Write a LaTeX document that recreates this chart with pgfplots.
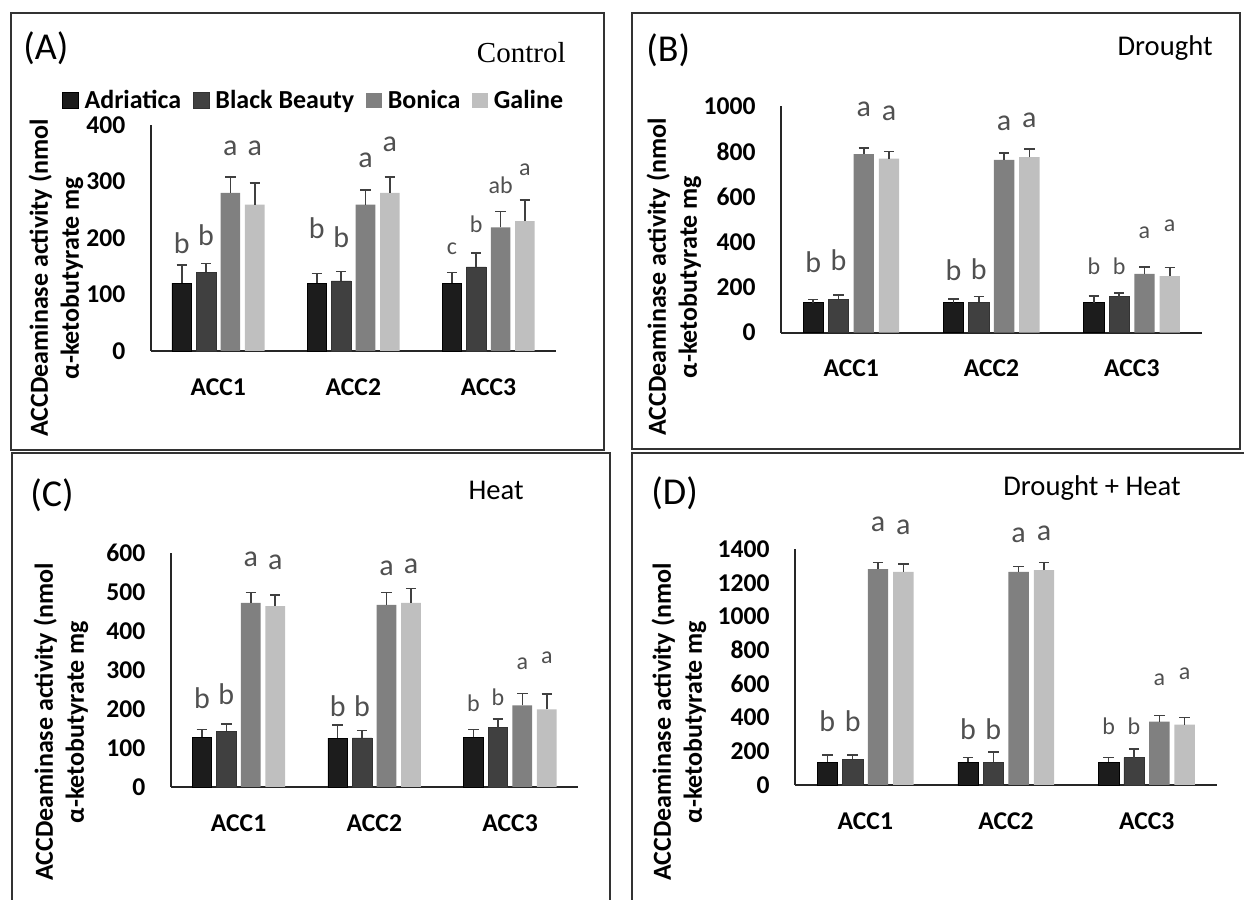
\documentclass[border=0pt]{standalone}
\usepackage{fontspec}
\setmainfont{Carlito}
\newfontfamily\seriffont{Liberation Serif}
\usepackage{pgfplots}
\pgfplotsset{compat=1.18}
\usepackage{pgfplotstable}

\definecolor{cAdr}{HTML}{1C1C1C}
\definecolor{cBB}{HTML}{404040}
\definecolor{cBon}{HTML}{808080}
\definecolor{cGal}{HTML}{BFBFBF}
\definecolor{cErr}{HTML}{404040}
\definecolor{cLet}{HTML}{505050}
\definecolor{cFrame}{HTML}{333333}

\pgfplotstableread{
x adr adrE bb bbE bon bonE gal galE
0 120 32 139 16 280 28 259 38
1 120 17 124 17 259 26 280 28
2 120 19 149 24 219 28 230 37
}\tA
\pgfplotstableread{
x adr adrE bb bbE bon bonE gal galE
0 132 15 148 18 788 27 768 31
1 132 16 134 25 762 31 774 36
2 132 30 159 17 259 31 249 38
}\tB
\pgfplotstableread{
x adr adrE bb bbE bon bonE gal galE
0 128 19 143 19 472 27 464 29
1 125 34 126 19 467 32 472 37
2 127 20 152 23 209 31 199 40
}\tC
\pgfplotstableread{
x adr adrE bb bbE bon bonE gal galE
0 135 43 152 26 1281 40 1265 46
1 135 27 135 59 1265 32 1275 46
2 135 27 162 52 376 36 358 42
}\tD

\pgfplotsset{
  panel/.style={
    scale only axis, anchor=south west,
    ybar, bar width=0.145,
    xmin=-0.5, xmax=2.5, ymin=0, enlargelimits=false,
    axis lines=left, axis line style={-, line width=0.9pt, color=black!85},
    xtick={0,1,2}, xticklabels={ACC1,ACC2,ACC3},
    major tick length=0pt,
    tick label style={font=\fontsize{12.8}{13}\selectfont\bfseries},
    /pgf/number format/assume math mode=true,
    /pgf/number format/1000 sep={},
    yticklabel style={anchor=east, inner sep=0pt, xshift=-12.5pt},
    xticklabel style={anchor=north, inner sep=0pt, yshift=-13.5pt},
    clip=false,
  },
  eb/.style={error bars/.cd, y dir=plus, y explicit,
    error bar style={line width=0.8pt, color=cErr},
    error mark options={rotate=90, mark size=2.6pt, line width=0.8pt, color=cErr}},
}
\tikzset{
  lt/.style={font=\fontsize{15}{15}\selectfont, text=cLet, inner sep=0pt},
  lts/.style={font=\fontsize{12}{12}\selectfont, text=cLet, inner sep=0pt},
  ylab/.style={rotate=90, align=center, font=\fontsize{13}{15.5}\selectfont\bfseries},
}

\newcommand\bars[1]{%
  \addplot[fill=cAdr, draw=black, line width=0.3pt, bar shift=-0.27, eb] table[x=x, y=adr, y error=adrE] {#1};
  \addplot[fill=cBB, draw=black!80, line width=0.3pt, bar shift=-0.09, eb] table[x=x, y=bb, y error=bbE] {#1};
  \addplot[fill=cBon, draw=none, bar shift=0.09, eb] table[x=x, y=bon, y error=bonE] {#1};
  \addplot[fill=cGal, draw=none, bar shift=0.27, eb] table[x=x, y=gal, y error=galE] {#1};
}

\begin{document}
\begin{tikzpicture}
\path[use as bounding box] (0,0) rectangle (622pt,450pt);

% frames
\draw[cFrame, line width=1pt] (5.5pt,225pt) rectangle (302pt,443.5pt);
\draw[cFrame, line width=1pt] (316pt,225.5pt) rectangle (620pt,443.5pt);
\draw[cFrame, line width=1pt] (6pt,-2pt) -- (6pt,223.5pt) -- (305pt,223.5pt) -- (305pt,-2pt);
\draw[cFrame, line width=1pt] (316pt,-2pt) -- (316pt,223.5pt) -- (625pt,223.5pt);

% panel titles
\node[anchor=west, inner sep=0pt, font=\fontsize{19}{19}\selectfont] at (11.5pt,426pt) {(A)};
\node[anchor=east, inner sep=0pt, font=\fontsize{14.5}{14.5}\selectfont\seriffont] at (283pt,423.5pt) {Control};
\node[anchor=west, inner sep=0pt, font=\fontsize{19}{19}\selectfont] at (323pt,425pt) {(B)};
\node[anchor=east, inner sep=0pt, font=\fontsize{14.3}{14.3}\selectfont] at (606.5pt,426pt) {Drought};
\node[anchor=west, inner sep=0pt, font=\fontsize{19}{19}\selectfont] at (15pt,202.5pt) {(C)};
\node[anchor=east, inner sep=0pt, font=\fontsize{14.3}{14.3}\selectfont] at (262pt,205pt) {Heat};
\node[anchor=west, inner sep=0pt, font=\fontsize{19}{19}\selectfont] at (325.5pt,203.5pt) {(D)};
\node[anchor=east, inner sep=0pt, font=\fontsize{14.3}{14.3}\selectfont] at (590.5pt,206pt) {Drought + Heat};

% y labels
\node[ylab] at (28pt,311pt) {ACCDeaminase activity (nmol\\α-ketobutyrate mg};
\node[ylab] at (337pt,311.5pt) {ACCDeaminase activity (nmol\\α-ketobutyrate mg};
\node[ylab] at (30.5pt,89pt) {ACCDeaminase activity (nmol\\α-ketobutyrate mg};
\node[ylab] at (339.5pt,89pt) {ACCDeaminase activity (nmol\\α-ketobutyrate mg};

% ---------------- A
\begin{axis}[panel, at={(75.35pt,274.5pt)}, width=202.65pt, height=113pt,
  ymax=400, ytick={0,100,200,300,400},
  legend columns=4,
  legend style={at={(-0.219,1.108)}, anchor=west, draw=none, fill=none,
    inner sep=0pt, font=\fontsize{13}{13}\selectfont\bfseries,
    nodes={inner sep=0pt, anchor=west},
    /tikz/every odd column/.append style={column sep=3pt},
    /tikz/every even column/.append style={column sep=6pt}},
  legend image code/.code={\fill[#1] (0pt,-3.9pt) rectangle (7.8pt,3.9pt);},
]
\bars{\tA}
\legend{Adriatica, Black Beauty, Bonica, Galine}
\node[lt] at (axis cs:-0.27,191) {b};
\node[lt] at (axis cs:-0.09,205) {b};
\node[lt] at (axis cs:0.09,359) {a};
\node[lt] at (axis cs:0.27,359) {a};
\node[lt] at (axis cs:0.73,217) {b};
\node[lt] at (axis cs:0.91,202) {b};
\node[lt] at (axis cs:1.09,338) {a};
\node[lt] at (axis cs:1.27,365) {a};
\node[lts] at (axis cs:1.73,181) {c};
\node[lts] at (axis cs:1.91,224) {b};
\node[lts] at (axis cs:2.09,294) {ab};
\node[lts] at (axis cs:2.27,320) {a};
\end{axis}

% ---------------- B
\begin{axis}[panel, at={(390.5pt,283.65pt)}, width=210.5pt, height=113.35pt,
  ymax=1000, ytick={0,200,400,600,800,1000}]
\bars{\tB}
\node[lt] at (axis cs:-0.27,313) {b};
\node[lt] at (axis cs:-0.09,321) {b};
\node[lt] at (axis cs:0.09,985) {a};
\node[lt] at (axis cs:0.27,968) {a};
\node[lt] at (axis cs:0.73,276) {b};
\node[lt] at (axis cs:0.91,279) {b};
\node[lt] at (axis cs:1.09,924) {a};
\node[lt] at (axis cs:1.27,935) {a};
\node[lts] at (axis cs:1.73,291) {b};
\node[lts] at (axis cs:1.91,294) {b};
\node[lts] at (axis cs:2.09,443) {a};
\node[lts] at (axis cs:2.27,472) {a};
\end{axis}

% ---------------- C
\begin{axis}[panel, at={(85.35pt,56.5pt)}, width=203.65pt, height=117pt,
  ymax=600, ytick={0,100,200,300,400,500,600}]
\bars{\tC}
\node[lt] at (axis cs:-0.27,228) {b};
\node[lt] at (axis cs:-0.09,239) {b};
\node[lt] at (axis cs:0.09,585) {a};
\node[lt] at (axis cs:0.27,577) {a};
\node[lt] at (axis cs:0.73,206) {b};
\node[lt] at (axis cs:0.91,206) {b};
\node[lt] at (axis cs:1.09,560) {a};
\node[lt] at (axis cs:1.27,566) {a};
\node[lts] at (axis cs:1.73,216) {b};
\node[lts] at (axis cs:1.91,230) {b};
\node[lts] at (axis cs:2.09,317) {a};
\node[lts] at (axis cs:2.27,332) {a};
\end{axis}

% ---------------- D
\begin{axis}[panel, at={(397.5pt,57.5pt)}, width=211pt, height=118pt,
  ymax=1400, ytick={0,200,400,600,800,1000,1200,1400}]
\bars{\tD}
\node[lt] at (axis cs:-0.27,376) {b};
\node[lt] at (axis cs:-0.09,376) {b};
\node[lt] at (axis cs:0.09,1545) {a};
\node[lt] at (axis cs:0.27,1531) {a};
\node[lt] at (axis cs:0.73,331) {b};
\node[lt] at (axis cs:0.91,331) {b};
\node[lt] at (axis cs:1.09,1479) {a};
\node[lt] at (axis cs:1.27,1495) {a};
\node[lts] at (axis cs:1.73,350) {b};
\node[lts] at (axis cs:1.91,350) {b};
\node[lts] at (axis cs:2.09,624) {a};
\node[lts] at (axis cs:2.27,659) {a};
\end{axis}
\end{tikzpicture}
\end{document}
